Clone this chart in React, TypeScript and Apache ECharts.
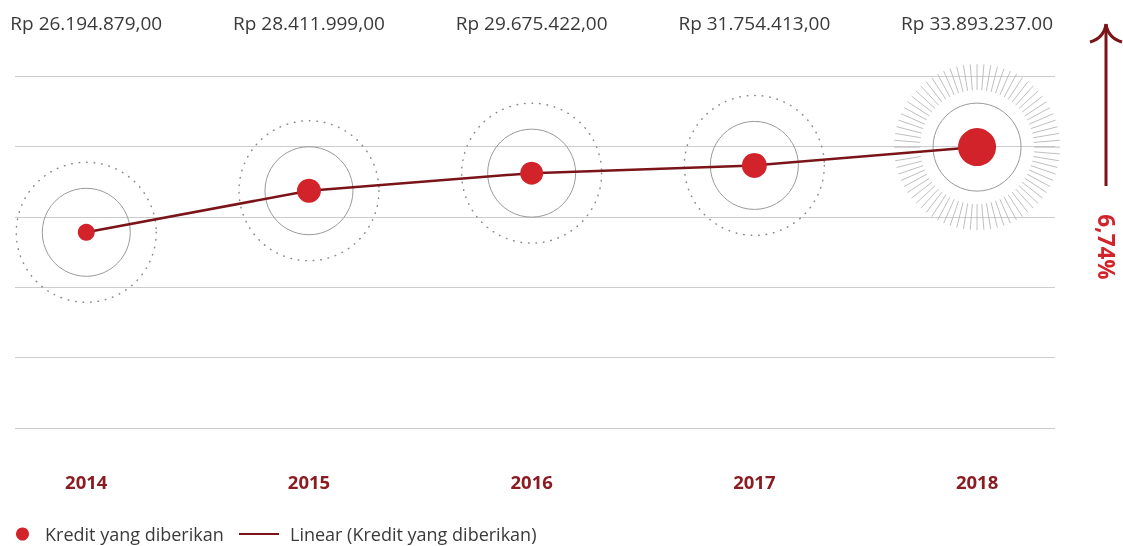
import React, { useEffect, useRef } from "react";
import * as echarts from "echarts";

const years = ["2014", "2015", "2016", "2017", "2018"];
const valueLabels = [
  "Rp 26.194.879,00",
  "Rp 28.411.999,00",
  "Rp 29.675.422,00",
  "Rp 31.754.413,00",
  "Rp 33.893.237.00",
];
// vertical level of each point as drawn (axis 0..50)
const plotLevels = [27.8, 33.7, 36.2, 37.3, 39.9];
// dot diameters as drawn
const dotSizes = [17, 24, 23, 25, 38];
const growthLabel = "6,74%";
const pointName = "Kredit yang diberikan";
const trendName = "Linear (Kredit yang diberikan)";

const RED = "#d2232a";
const DARK = "#7b1419";
const FONT = "'Open Sans', Lato, sans-serif";

export default function App() {
  const ref = useRef<HTMLDivElement>(null);

  useEffect(() => {
    if (!ref.current) return;
    const chart = echarts.init(ref.current, undefined, { renderer: "svg" });
    const idx = years.map((_, i) => i);
    const pts = idx.map((i) => [i, plotLevels[i]]);
    const last = years.length - 1;

    const xCommon = {
      type: "value",
      min: -0.32,
      max: 4.35,
      axisLine: { show: false },
      axisTick: { show: false },
      splitLine: { show: false },
    };

    const legendText = { fontSize: 18, color: "#3a3a3a", fontFamily: FONT };

    chart.setOption({
      animation: false,
      textStyle: { fontFamily: FONT },
      grid: { left: 15, right: 68, top: 76, bottom: 118 },
      xAxis: [
        {
          ...xCommon,
          position: "bottom",
          axisLabel: {
            customValues: idx,
            formatter: (v: number) => years[Math.round(v)],
            margin: 44,
            color: "#8a1c22",
            fontWeight: "bold",
            fontSize: 18.5,
            fontFamily: FONT,
          },
        },
        {
          ...xCommon,
          position: "top",
          axisLabel: {
            customValues: idx,
            formatter: (v: number) => valueLabels[Math.round(v)],
            margin: 44,
            color: "#3a3a3a",
            fontSize: 19,
            fontFamily: FONT,
          },
        },
      ],
      yAxis: {
        type: "value",
        min: 0,
        max: 50,
        interval: 10,
        axisLine: { show: false },
        axisTick: { show: false },
        axisLabel: { show: false },
        splitLine: { show: true, lineStyle: { color: "#cccccc", width: 1 } },
      },
      legend: [
        {
          left: 11,
          top: 520,
          itemWidth: 13,
          itemHeight: 13,
          textStyle: { ...legendText, padding: [0, 0, 0, 11] },
          data: [{ name: pointName, icon: "circle" }],
        },
        {
          left: 233,
          top: 520,
          itemWidth: 40,
          itemHeight: 13,
          textStyle: { ...legendText, padding: [0, 0, 0, 6] },
          data: [
            { name: trendName, itemStyle: { opacity: 0 }, lineStyle: { width: 2 } },
          ],
        },
      ],
      series: [
        {
          type: "custom",
          name: "decor",
          clip: false,
          silent: true,
          z: 1,
          data: pts,
          renderItem: (params: any, api: any) => {
            const c = api.coord([api.value(0), api.value(1)]);
            const i = params.dataIndex;
            const children: any[] = [
              {
                type: "circle",
                shape: { cx: c[0], cy: c[1], r: 44 },
                style: { fill: "none", stroke: "#999", lineWidth: 1 },
              },
            ];
            if (i === last) {
              const n = 76;
              for (let k = 0; k < n; k++) {
                const a = (k / n) * Math.PI * 2;
                const ca = Math.cos(a);
                const sa = Math.sin(a);
                children.push({
                  type: "line",
                  shape: {
                    x1: c[0] + ca * 57,
                    y1: c[1] + sa * 57,
                    x2: c[0] + ca * 83,
                    y2: c[1] + sa * 83,
                  },
                  style: { stroke: "#b4b4b4", lineWidth: 0.85 },
                });
              }
            } else {
              children.push({
                type: "circle",
                shape: { cx: c[0], cy: c[1], r: 70 },
                style: {
                  fill: "none",
                  stroke: "#8a8a8a",
                  lineWidth: 1.5,
                  lineDash: [0.5, 7],
                  lineCap: "round",
                },
              });
            }
            return { type: "group", children };
          },
        },
        {
          type: "line",
          name: trendName,
          data: pts,
          symbol: "none",
          z: 2,
          lineStyle: { color: DARK, width: 2.5 },
          itemStyle: { color: DARK },
        },
        {
          type: "scatter",
          name: pointName,
          data: pts,
          z: 3,
          symbol: "circle",
          symbolSize: (_v: any, p: any) => dotSizes[p.dataIndex],
          itemStyle: { color: RED, opacity: 1 },
        },
      ],
      graphic: [
        {
          type: "line",
          shape: { x1: 1106, y1: 186, x2: 1106, y2: 26 },
          style: { stroke: DARK, lineWidth: 3 },
        },
        {
          type: "bezierCurve",
          shape: { x1: 1106, y1: 24, cpx1: 1104, cpy1: 38, x2: 1090, y2: 42 },
          style: { stroke: DARK, lineWidth: 3, fill: "none" },
        },
        {
          type: "bezierCurve",
          shape: { x1: 1106, y1: 24, cpx1: 1108, cpy1: 38, x2: 1122, y2: 42 },
          style: { stroke: DARK, lineWidth: 3, fill: "none" },
        },
        {
          type: "text",
          x: 1106,
          y: 247,
          rotation: -Math.PI / 2,
          style: {
            text: growthLabel,
            fill: RED,
            font: `bold 22.5px ${FONT}`,
            align: "center",
            verticalAlign: "middle",
          },
        },
      ],
    });
    return () => chart.dispose();
  }, []);

  return (
    <div
      ref={ref}
      style={{ position: "fixed", left: 0, top: 0, width: 1123, height: 546 }}
    />
  );
}
